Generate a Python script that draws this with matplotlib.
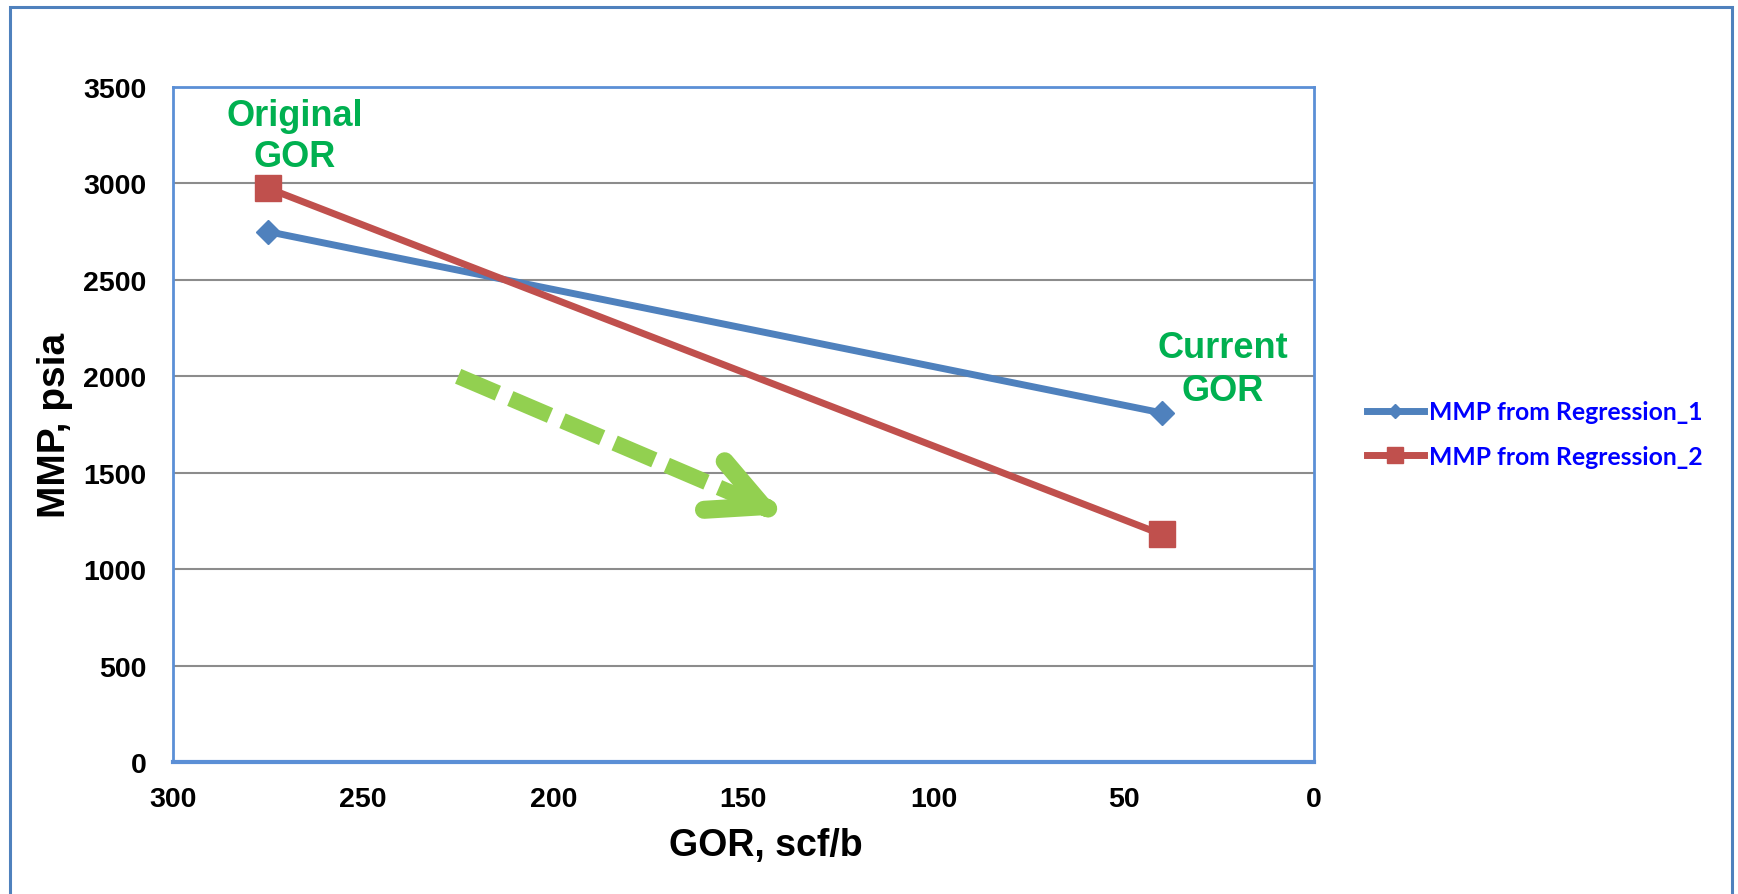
import matplotlib
matplotlib.use("Agg")
import matplotlib.pyplot as plt
from matplotlib.patches import Rectangle

plt.rcParams["font.family"] = "Liberation Sans"
plt.rcParams["font.weight"] = "bold"
plt.rcParams["axes.labelweight"] = "bold"

# data
gor = [275, 40]
mmp_reg1 = [2750, 1810]
mmp_reg2 = [2975, 1180]
labels = ["MMP from Regression_1", "MMP from Regression_2"]
xticks = [300, 250, 200, 150, 100, 50, 0]
yticks = [0, 500, 1000, 1500, 2000, 2500, 3000, 3500]

blue = "#4F81BD"
red = "#C0504D"
green_txt = "#00B050"
green_arrow = "#92D050"
axis_blue = "#5B8FD6"

fig = plt.figure(figsize=(17.38, 8.95), dpi=100)
ax = fig.add_axes([0.0995, 0.1475, 0.6565, 0.7542])

# frame around the whole picture (bottom edge runs off the image)
fig.patches.append(Rectangle((0.006, -0.05), 0.9905, 1.041, transform=fig.transFigure,
                             fill=False, edgecolor=blue, linewidth=2.2, zorder=0))

ax.plot(gor, mmp_reg1, color=blue, lw=5, marker="D", ms=12.5, label=labels[0], zorder=3)
ax.plot(gor, mmp_reg2, color=red, lw=5, marker="s", ms=18.5, label=labels[1], zorder=3)

ax.set_xlim(300, 0)
ax.set_ylim(0, 3500)
ax.set_xticks(xticks)
ax.set_yticks(yticks)
ax.tick_params(axis="both", length=0, labelsize=20.5)
ax.tick_params(axis="y", pad=19)
ax.tick_params(axis="x", pad=17)
ax.yaxis.grid(True, color="#8C8C8C", lw=1.5)
ax.set_axisbelow(True)
for side in ["left", "right", "top"]:
    ax.spines[side].set_color(axis_blue)
    ax.spines[side].set_linewidth(2)
ax.spines["bottom"].set_color(axis_blue)
ax.spines["bottom"].set_linewidth(3)

ax.set_xlabel("GOR, scf/b", fontsize=27)
ax.set_ylabel("MMP, psia", fontsize=28)
ax.xaxis.set_label_coords(0.52, -0.097)
ax.yaxis.set_label_coords(-0.088, 0.5)

ax.text(268, 3246, "Original\nGOR", color=green_txt, fontsize=26, ha="center", va="center",
        linespacing=1.25)
ax.text(24, 2040, "Current\nGOR", color=green_txt, fontsize=26, ha="center", va="center",
        linespacing=1.3)

# dashed trend arrow
a_start = (225, 2000)
a_end = (140, 1285)
ax.plot([a_start[0], a_start[0] + 0.97 * (a_end[0] - a_start[0])],
        [a_start[1], a_start[1] + 0.97 * (a_end[1] - a_start[1])],
        color=green_arrow, lw=11.5, linestyle=(0, (2.7, 0.85)), solid_capstyle="butt",
        dash_capstyle="butt", zorder=2)
ax.annotate("", xy=a_end,
            xytext=(a_end[0] + 0.05 * (a_start[0] - a_end[0]), a_end[1] + 0.05 * (a_start[1] - a_end[1])),
            arrowprops=dict(arrowstyle="->,head_length=38,head_width=19", mutation_scale=1,
                            color=green_arrow, lw=13, shrinkA=0, shrinkB=0,
                            capstyle="round", joinstyle="round"), zorder=2)

fig.legend(loc="center left", bbox_to_anchor=(1367 / 1738, (895 - 435) / 895),
           frameon=False, borderpad=0, borderaxespad=0, handlelength=2.3, handletextpad=0.2,
           labelspacing=0.85, markerscale=0.6, labelcolor="#0000FF",
           prop={"family": "Lato", "weight": "bold", "size": 17.8})

fig.savefig("out.png", dpi=100)
